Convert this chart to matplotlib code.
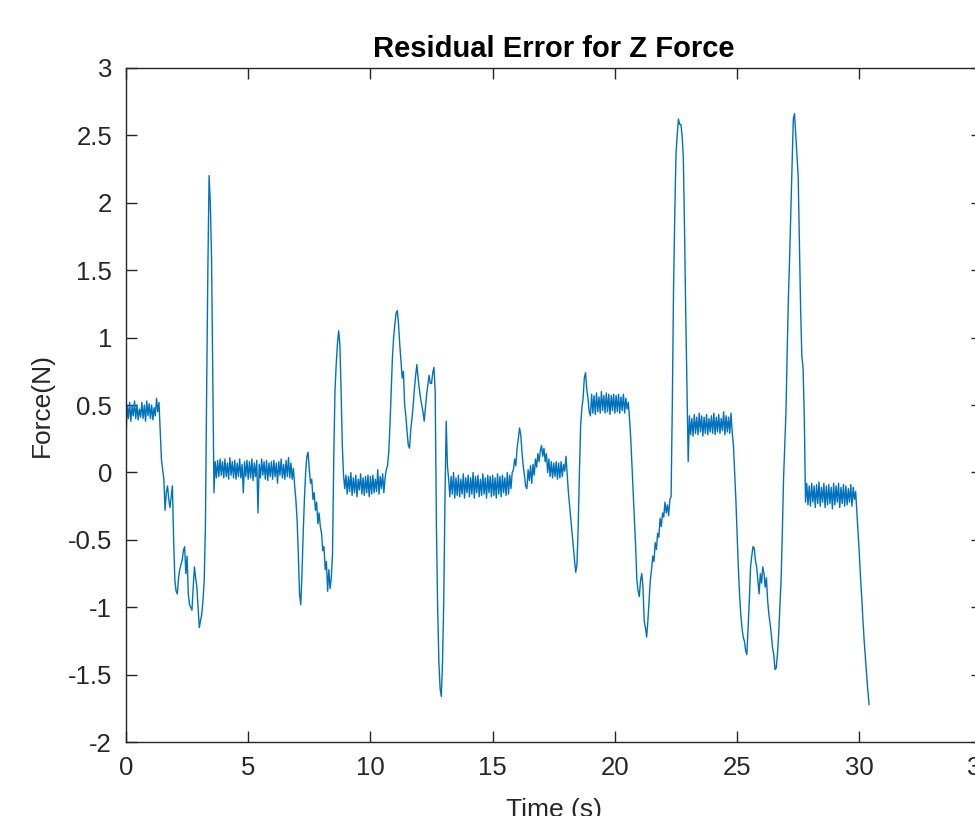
# Residual error for Z force, redrawn in a MATLAB-like look
import numpy as np
import matplotlib
matplotlib.use('Agg')
from matplotlib import pyplot as plt

plt.rcParams['font.family'] = ['Liberation Sans', 'DejaVu Sans']

# force residual (N), one reading every 0.05 s starting at 0 s (one row per second)
force = [
    0.25, 0.50, 0.40, 0.52, 0.38, 0.49, 0.42, 0.53, 0.40, 0.50, 0.39, 0.47, 0.41, 0.52, 0.40, 0.50, 0.38, 0.53, 0.42, 0.51,
    0.40, 0.50, 0.39, 0.48, 0.42, 0.55, 0.45, 0.52, 0.30, 0.10, 0.02, -0.05, -0.28, -0.15, -0.10, -0.20, -0.26, -0.18, -0.10, -0.50,
    -0.80, -0.88, -0.90, -0.78, -0.72, -0.68, -0.65, -0.58, -0.55, -0.75, -0.62, -0.90, -0.98, -1.00, -1.02, -0.85, -0.70, -0.78, -0.85, -1.00,
    -1.15, -1.10, -1.05, -0.95, -0.80, -0.40, 0.60, 1.50, 2.20, 2.00, 1.60, 0.70, -0.15, 0.08, -0.04, 0.09, -0.03, 0.10, -0.02, 0.08,
    -0.04, 0.10, -0.03, 0.07, -0.05, 0.11, -0.02, 0.08, -0.04, 0.09, -0.05, 0.07, -0.03, 0.10, -0.04, 0.06, -0.15, 0.08, -0.03, 0.09,
    -0.05, 0.08, -0.04, 0.10, -0.06, 0.07, -0.03, 0.09, -0.30, 0.06, -0.04, 0.10, -0.02, 0.08, -0.05, 0.09, -0.06, 0.07, -0.03, 0.08,
    -0.05, 0.09, -0.03, 0.07, -0.08, 0.08, -0.02, 0.10, -0.04, 0.06, -0.05, 0.09, -0.03, 0.11, -0.04, 0.07, -0.05, 0.03, -0.10, -0.20,
    -0.35, -0.60, -0.90, -0.98, -0.75, -0.45, -0.20, 0.00, 0.12, 0.15, 0.02, -0.08, -0.05, -0.20, -0.15, -0.28, -0.22, -0.38, -0.30, -0.40,
    -0.45, -0.58, -0.55, -0.72, -0.66, -0.88, -0.72, -0.86, -0.78, -0.60, 0.10, 0.60, 0.80, 0.95, 1.05, 0.95, 0.60, 0.20, -0.02, -0.12,
    -0.02, -0.16, -0.03, -0.14, 0.00, -0.17, -0.04, -0.15, -0.02, -0.18, -0.05, -0.13, -0.01, -0.16, -0.04, -0.17, -0.03, -0.15, -0.02, -0.18,
    -0.03, -0.16, -0.02, -0.15, -0.05, -0.14, 0.02, -0.16, -0.03, -0.12, -0.01, -0.15, -0.04, 0.02, 0.05, 0.15, 0.35, 0.60, 0.85, 1.00,
    1.10, 1.18, 1.20, 1.10, 0.95, 0.82, 0.70, 0.75, 0.50, 0.42, 0.30, 0.20, 0.18, 0.32, 0.40, 0.50, 0.62, 0.72, 0.80, 0.70,
    0.62, 0.55, 0.50, 0.45, 0.38, 0.48, 0.58, 0.65, 0.72, 0.66, 0.66, 0.74, 0.78, 0.60, -0.40, -1.00, -1.40, -1.60, -1.66, -1.40,
    -0.95, -0.20, 0.38, 0.05, -0.05, -0.18, -0.03, -0.16, 0.00, -0.19, -0.04, -0.17, -0.02, -0.18, -0.05, -0.16, -0.01, -0.19, -0.04, -0.15,
    -0.02, -0.18, -0.04, -0.16, 0.00, -0.19, -0.03, -0.15, -0.02, -0.18, -0.05, -0.17, -0.01, -0.16, -0.04, -0.19, -0.02, -0.15, -0.03, -0.18,
    -0.02, -0.17, -0.04, -0.19, -0.01, -0.16, -0.03, -0.18, -0.02, -0.15, -0.04, -0.17, 0.00, -0.16, -0.02, -0.12, 0.00, 0.02, 0.10, 0.05,
    0.18, 0.25, 0.33, 0.28, 0.15, 0.05, -0.02, -0.10, -0.12, 0.02, -0.06, 0.05, -0.08, 0.06, -0.02, 0.10, 0.04, 0.14, 0.08, 0.16,
    0.20, 0.12, 0.18, 0.08, 0.14, 0.00, 0.10, -0.03, 0.08, -0.04, 0.07, -0.03, 0.08, -0.05, 0.07, -0.04, 0.08, -0.03, 0.06, 0.01,
    0.12, -0.02, -0.15, -0.25, -0.35, -0.45, -0.55, -0.65, -0.74, -0.68, -0.40, 0.00, 0.35, 0.48, 0.55, 0.70, 0.74, 0.62, 0.55, 0.45,
    0.42, 0.58, 0.44, 0.57, 0.43, 0.59, 0.45, 0.56, 0.44, 0.60, 0.46, 0.57, 0.44, 0.59, 0.45, 0.58, 0.43, 0.57, 0.46, 0.58,
    0.44, 0.57, 0.45, 0.58, 0.44, 0.56, 0.46, 0.58, 0.44, 0.55, 0.47, 0.52, 0.40, 0.25, 0.05, -0.15, -0.35, -0.55, -0.80, -0.88,
    -0.92, -0.80, -0.75, -0.85, -1.10, -1.15, -1.22, -1.10, -0.95, -0.80, -0.72, -0.62, -0.66, -0.52, -0.57, -0.45, -0.48, -0.34, -0.40, -0.30,
    -0.33, -0.22, -0.30, -0.24, -0.32, -0.20, -0.18, 0.50, 1.35, 1.90, 2.36, 2.50, 2.62, 2.58, 2.58, 2.50, 2.34, 1.80, 1.17, 0.60,
    0.08, 0.42, 0.28, 0.40, 0.27, 0.43, 0.29, 0.41, 0.28, 0.44, 0.30, 0.42, 0.27, 0.41, 0.29, 0.43, 0.28, 0.40, 0.30, 0.42,
    0.29, 0.44, 0.28, 0.41, 0.30, 0.43, 0.29, 0.40, 0.31, 0.45, 0.28, 0.42, 0.30, 0.41, 0.29, 0.44, 0.30, 0.20, 0.00, -0.20,
    -0.45, -0.70, -0.90, -1.05, -1.15, -1.22, -1.25, -1.32, -1.35, -1.15, -0.95, -0.70, -0.62, -0.55, -0.56, -0.65, -0.70, -0.80, -0.90, -0.75,
    -0.82, -0.70, -0.75, -0.85, -0.78, -0.95, -1.05, -1.12, -1.20, -1.30, -1.35, -1.46, -1.45, -1.35, -1.20, -1.00, -0.80, -0.45, -0.05, 0.20,
    0.45, 0.90, 1.30, 1.60, 1.95, 2.30, 2.62, 2.66, 2.50, 2.35, 2.19, 1.70, 1.20, 0.86, 0.77, 0.40, -0.22, -0.08, -0.24, -0.10,
    -0.25, -0.08, -0.22, -0.10, -0.26, -0.09, -0.23, -0.07, -0.25, -0.11, -0.22, -0.08, -0.26, -0.10, -0.24, -0.09, -0.23, -0.11, -0.27, -0.08,
    -0.24, -0.10, -0.22, -0.08, -0.26, -0.11, -0.23, -0.09, -0.25, -0.10, -0.24, -0.12, -0.22, -0.09, -0.25, -0.11, -0.20, -0.14, -0.30, -0.45,
    -0.60, -0.78, -0.93, -1.10, -1.25, -1.38, -1.50, -1.62, -1.72,
]
time = np.arange(len(force)) * 0.05

xticks = [0, 5, 10, 15, 20, 25, 30, 35]
yticks = [-2, -1.5, -1, -0.5, 0, 0.5, 1, 1.5, 2, 2.5, 3]
ytick_labels = ['-2', '-1.5', '-1', '-0.5', '0', '0.5', '1', '1.5', '2', '2.5', '3']

fig = plt.figure(figsize=(9.75, 8.16), dpi=100)
ax = fig.add_axes([0.1292, 0.0903, 0.8775, 0.8267])

ax.plot(time, force, color='#0072BD', linewidth=1.0)

ax.set_xlim(0, 35)
ax.set_ylim(-2, 3)
ax.set_xticks(xticks)
ax.set_yticks(yticks)
ax.set_yticklabels(ytick_labels)

for side in ['left', 'right', 'top', 'bottom']:
    ax.spines[side].set_color('#262626')
    ax.spines[side].set_linewidth(1.0)
ax.tick_params(direction='in', length=8, width=1.0, color='#262626',
               labelcolor='#262626', labelsize=18.5, top=True, right=True, pad=10)

ax.set_title('Residual Error for Z Force', fontsize=21, fontweight='bold', pad=8)
ax.set_ylabel('Force(N)', fontsize=19, color='#262626', labelpad=10)
ax.set_xlabel('Time (s)', fontsize=19, color='#262626', labelpad=13)

fig.savefig('out.png', dpi=100)
